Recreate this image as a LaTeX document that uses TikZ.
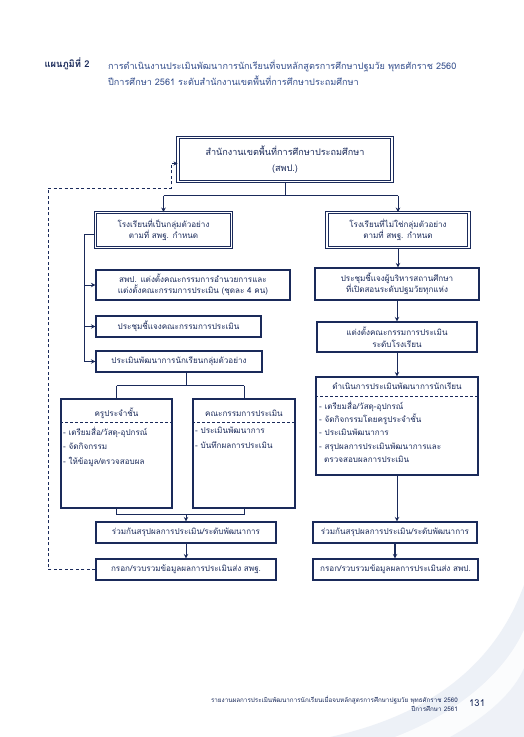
\documentclass[tikz,border=0pt]{standalone}
\usepackage{fontspec}
\newfontfamily\thai[Script=Thai]{Loma}
\usetikzlibrary{positioning,arrows.meta,calc}
\definecolor{navy}{RGB}{26,42,90}
\definecolor{capblue}{RGB}{52,78,140}
\definecolor{swoosh}{RGB}{226,232,242}

\begin{document}
\begin{tikzpicture}[
    x=1pt,y=-1pt,>=Stealth,
    box/.style={draw=navy,line width=1.1pt,fill=white,align=center,text=navy,
      font=\thai\fontsize{8.1}{11.5}\selectfont,inner sep=2pt},
    dbox/.style={box,double=white,double distance=1.4pt,line width=0.9pt},
    flow/.style={-{Stealth[length=4.5pt,width=4.5pt]},draw=navy,line width=1pt},
    link/.style={draw=navy,line width=1pt},
    feedback/.style={-{Stealth[length=4pt,width=4pt]},draw=navy,line width=0.8pt,
      dash pattern=on 3pt off 2.5pt},
    sepline/.style={draw=navy,line width=0.7pt,dash pattern=on 3pt off 2pt},
    headtext/.style={text=navy,inner sep=0pt,font=\thai\fontsize{8.1}{11.5}\selectfont},
    listtext/.style={anchor=north west,align=left,text=navy,inner sep=0pt,
      font=\thai\fontsize{8.1}{14.3}\selectfont}
]
\useasboundingbox (0,0) rectangle (524,737);
\fill[white] (0,0) rectangle (524,737);

% page decoration
\fill[swoosh,opacity=0.6] (330,737) .. controls (430,715) and (495,665) .. (524,585)
  -- (524,737) -- cycle;
\fill[white,opacity=0.8] (395,737) .. controls (460,712) and (505,672) .. (524,630)
  -- (524,737) -- cycle;
\fill[swoosh,opacity=0.5] (450,737) .. controls (490,715) and (515,690) .. (524,668)
  -- (524,737) -- cycle;

% title
\node[anchor=west,text=navy,font=\thai\bfseries\fontsize{9.4}{12}\selectfont] (plan)
  at (41,64) {แผนภูมิที่ 2};
\node[anchor=west,align=left,text=capblue,inner sep=0pt,
  font=\thai\fontsize{9.1}{16}\selectfont] (caption) at (108,73)
  {การดำเนินงานประเมินพัฒนาการนักเรียนที่จบหลักสูตรการศึกษาปฐมวัย พุทธศักราช 2560\\
   ปีการศึกษา 2561 ระดับสำนักงานเขตพื้นที่การศึกษาประถมศึกษา};

% top and schools
\node[dbox,minimum width=214,minimum height=44,font=\thai\fontsize{9.1}{16.5}\selectfont]
  (top) at (285,159.5) {สำนักงานเขตพื้นที่การศึกษาประถมศึกษา\\(สพป.)};
\node[dbox,minimum width=136,minimum height=35] (schA) at (163.5,230)
  {โรงเรียนที่เป็นกลุ่มตัวอย่าง\\ตามที่ สพฐ. กำหนด};
\node[dbox,minimum width=142,minimum height=35] (schB) at (398,230)
  {โรงเรียนที่ไม่ใช่กลุ่มตัวอย่าง\\ตามที่ สพฐ. กำหนด};

% left column
\node[box,minimum width=194,minimum height=30] (appoint) at (193,285)
  {สพป. แต่งตั้งคณะกรรมการอำนวยการและ\\แต่งตั้งคณะกรรมการประเมิน (ชุดละ 4 คน)};
\node[box,minimum width=165,minimum height=21] (meetA) at (178.5,326.5)
  {ประชุมชี้แจงคณะกรรมการประเมิน};
\node[box,minimum width=166,minimum height=21] (assessA) at (179,361.5)
  {ประเมินพัฒนาการนักเรียนกลุ่มตัวอย่าง};
\node[box,minimum width=111,minimum height=109] (kru) at (116.5,453.5) {};
\node[box,minimum width=102,minimum height=109] (comm) at (244,453.5) {};
\node[headtext] (kruhead) at (116.5,413) {ครูประจำชั้น};
\node[headtext] (commhead) at (244,413) {คณะกรรมการประเมิน};
\draw[sepline] (kru.west |- 0,422) -- (kru.east |- 0,422);
\draw[sepline] (comm.west |- 0,422) -- (comm.east |- 0,422);
\node[listtext] (krulist) at (63,427)
  {- เตรียมสื่อ/วัสดุ-อุปกรณ์\\- จัดกิจกรรม\\- ให้ข้อมูล/ตรวจสอบผล};
\node[listtext] (commlist) at (195,427)
  {- ประเมินพัฒนาการ\\- บันทึกผลการประเมิน};
\node[box,minimum width=180,minimum height=21] (sumA) at (186,532.5)
  {ร่วมกันสรุปผลการประเมิน/ระดับพัฒนาการ};
\node[box,minimum width=180,minimum height=21] (sendA) at (186,569.5)
  {กรอก/รวบรวมข้อมูลผลการประเมินส่ง สพฐ.};

% right column
\node[box,minimum width=164,minimum height=32] (meetB) at (397,284)
  {ประชุมชี้แจงผู้บริหารสถานศึกษา\\ที่เปิดสอนระดับปฐมวัยทุกแห่ง};
\node[box,minimum width=160,minimum height=30] (appB) at (397,337)
  {แต่งตั้งคณะกรรมการประเมิน\\ระดับโรงเรียน};
\node[box,minimum width=162,minimum height=98] (doB) at (397,426) {};
\node[headtext] (dohead) at (397,386) {ดำเนินการประเมินพัฒนาการนักเรียน};
\draw[sepline] (doB.west |- 0,396) -- (doB.east |- 0,396);
\node[listtext,font=\thai\fontsize{8.1}{13.2}\selectfont] (dolist) at (319,401)
  {- เตรียมสื่อ/วัสดุ-อุปกรณ์\\- จัดกิจกรรมโดยครูประจำชั้น\\- ประเมินพัฒนาการ\\
   - สรุปผลการประเมินพัฒนาการและ\\\hspace{5pt}ตรวจสอบผลการประเมิน};
\node[box,minimum width=164,minimum height=21] (sumB) at (395,532.5)
  {ร่วมกันสรุปผลการประเมิน/ระดับพัฒนาการ};
\node[box,minimum width=165,minimum height=21] (sendB) at (395.5,569.5)
  {กรอก/รวบรวมข้อมูลผลการประเมินส่ง สพป.};

% connectors from the top box
\draw[link] (top.south) -- ++(0,14) coordinate (split);
\draw[link] (split -| schA.north) -- (split -| schB.north);
\draw[flow] (split -| schA.north) -- (schA.north);
\draw[flow] (split -| schB.north) -- (schB.north);

% left spine
\draw[link] ([yshift=-4pt]schA.west) -- ++(-11,0) coordinate (spine)
  -- (spine |- assessA.west);
\foreach \n in {appoint,meetA,assessA} {
  \draw[flow] (spine |- \n.west) -- (\n.west);
}
\draw[link] ([xshift=7pt]assessA.south) -- ++(0,13) coordinate (forkA);
\draw[link] (forkA -| kru.north) -- (forkA -| comm.north);
\draw[link] (forkA -| kru.north) -- (kru.north);
\draw[link] (forkA -| comm.north) -- (comm.north);
\draw[link] (kru.south) -- ++(0,6) coordinate (joinA) -- (joinA -| comm.south)
  -- (comm.south);
\draw[flow] (joinA -| sumA.north) -- (sumA.north);
\draw[flow] (sumA.south) -- (sendA.north);

% right column
\draw[flow] (schB.south) -- (schB.south |- meetB.north);
\draw[flow] (meetB.south) -- (meetB.south |- appB.north);
\draw[flow] (appB.south) -- (appB.south |- doB.north);
\draw[flow] (doB.south) -- (doB.south |- sumB.north);
\draw[flow,line width=1.5pt] (sumB.south) -- (sumB.south |- sendB.north);

% report back to the office
\coordinate (fbL) at (48,188);
\coordinate (fbR) at (171,188);
\draw[feedback] (sendA.west) -| (fbL) -- (fbR) |- ([yshift=-4pt]top.west);

% footer
\node[anchor=east,align=right,text=navy,inner sep=0pt,
  font=\thai\fontsize{6.3}{9.5}\selectfont] (foot) at (458,704)
  {รายงานผลการประเมินพัฒนาการนักเรียนเมื่อจบหลักสูตรการศึกษาปฐมวัย พุทธศักราช 2560\\
   ปีการศึกษา 2561};
\node[anchor=west,text=navy,inner sep=0pt,font=\thai\fontsize{9.5}{10}\selectfont] (page)
  at (469,703) {131};
\end{tikzpicture}
\end{document}
